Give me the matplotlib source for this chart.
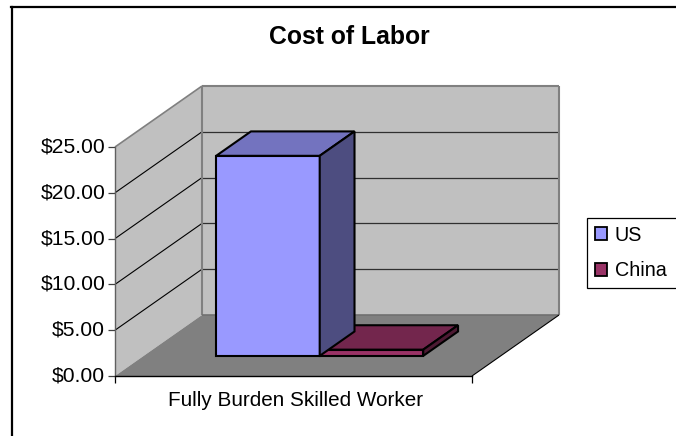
# plot.py
# Cost of labor chart, old style 3D column look on flat axes

import matplotlib
matplotlib.use('Agg')
import matplotlib.pyplot as plt
from matplotlib.patches import Patch, Polygon
from matplotlib.lines import Line2D

title = 'Cost of Labor'
category = 'Fully Burden Skilled Worker'
series_names = ['US', 'China']
series_values = [21.84, 0.68]
front_colors = ['#9999FF', '#993366']
top_colors = ['#7373BF', '#73264D']
side_colors = ['#4D4D80', '#4D1A33']
y_ticks = [0, 5, 10, 15, 20, 25]
y_labels = ['$0.00', '$5.00', '$10.00', '$15.00', '$20.00', '$25.00']

W, H = 676, 436
plt.rcParams['font.family'] = ['Liberation Sans', 'DejaVu Sans']

fig = plt.figure(figsize=(W / 100, H / 100), dpi=100)
ax = fig.add_axes([115 / W, (H - 376) / H, 357 / W, 229 / H])
ax.set_xlim(0, 1)
ax.set_ylim(0, 25)
ax.patch.set_visible(False)

# how far the back of the box is shifted, in axes data units
depth_x = 87 / 357
depth_y = 61 / 229 * 25


def proj(x, v, d):
    return (x + d * depth_x, v + d * depth_y)


def face(points, color, edge='none', lw=0, z=1):
    ax.add_patch(Polygon([proj(*p) for p in points], closed=True, facecolor=color,
                         edgecolor=edge, linewidth=lw, zorder=z, clip_on=False,
                         joinstyle='miter'))


def line(a, b, color, lw, z=2):
    pa, pb = proj(*a), proj(*b)
    ax.plot([pa[0], pb[0]], [pa[1], pb[1]], color=color, lw=lw, zorder=z, clip_on=False,
            solid_capstyle='butt')


# walls and floor
face([(0, 0, 0), (0, 25, 0), (0, 25, 1), (0, 0, 1)], '#C0C0C0')
face([(0, 0, 1), (0, 25, 1), (1, 25, 1), (1, 0, 1)], '#C0C0C0')
face([(0, 0, 0), (0, 0, 1), (1, 0, 1), (1, 0, 0)], '#808080')

for t in y_ticks[1:-1]:
    line((0, t, 0), (0, t, 1), '#000000', 0.8)
    line((0, t, 1), (1, t, 1), '#303030', 0.9)

line((0, 25, 0), (0, 25, 1), '#808080', 1.2)
line((0, 25, 1), (1, 25, 1), '#808080', 1.5)
line((1, 25, 1), (1, 0, 1), '#808080', 1.5)
line((0, 25, 1), (0, 0, 1), '#808080', 1.5)
line((0, 0, 1), (1, 0, 1), '#707070', 1.2)
line((1, 0, 0), (1, 0, 1), '#000000', 0.8)

# columns
bar_w = 0.29
d0, d1 = 0.33, 0.73
x_start = 0.203
for i, v in enumerate(series_values):
    x0 = x_start + i * bar_w
    x1 = x0 + bar_w
    z = 5 - i
    kw = dict(edge='#000000', lw=1.5, z=z)
    face([(x0, 0, d0), (x0, v, d0), (x1, v, d0), (x1, 0, d0)], front_colors[i], **kw)
    face([(x0, v, d0), (x0, v, d1), (x1, v, d1), (x1, v, d0)], top_colors[i], **kw)
    face([(x1, 0, d0), (x1, v, d0), (x1, v, d1), (x1, 0, d1)], side_colors[i], **kw)

# axes
ax.set_yticks(y_ticks)
ax.set_yticklabels(y_labels, va='center')
ax.set_xticks([0, 1])
ax.set_xticklabels(['', ''])
ax.tick_params(axis='y', length=5, width=0.9, color='#404040', pad=2, labelsize=15.2, labelcolor='#000000')
ax.tick_params(axis='x', length=5, width=0.9, color='#000000')
for s in ['top', 'right']:
    ax.spines[s].set_visible(False)
ax.spines['left'].set_color('#606060')
ax.spines['left'].set_linewidth(1.0)
ax.spines['bottom'].set_color('#000000')
ax.spines['bottom'].set_linewidth(1.0)
ax.set_xlabel(category, fontsize=14.9, labelpad=2, color='#000000', x=0.506)

fig.text(349 / W, 1 - 37.5 / H, title, ha='center', va='center', fontsize=17.8, fontweight='bold')

# legend runs off the right edge like the frame does
handles = [Patch(facecolor=c, edgecolor='#000000', linewidth=1.3) for c in front_colors]
leg = fig.legend(handles, series_names, loc='upper left', mode='expand',
                 bbox_to_anchor=(587 / W, 1 - 218 / H, 120 / W, 0), borderaxespad=0, borderpad=0.39,
                 fontsize=14.2, handlelength=0.6, handleheight=0.6, handletextpad=0.42,
                 labelspacing=0.85, fancybox=False, framealpha=1, edgecolor='#000000')
leg.get_frame().set_linewidth(0.9)

# chart frame, only left and top fall inside the picture
fig.add_artist(Line2D([11.5 / W, 11.5 / W], [0, 1 - 7 / H], color='#000000', lw=1.6))
fig.add_artist(Line2D([11 / W, 1], [1 - 7.5 / H, 1 - 7.5 / H], color='#000000', lw=1.6))

fig.savefig('out.png', dpi=100)
